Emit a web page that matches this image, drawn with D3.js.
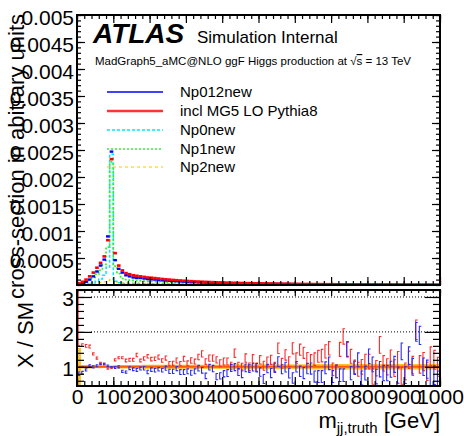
<!DOCTYPE html>
<html>
<head>
<meta charset="utf-8">
<script src="https://cdn.jsdelivr.net/npm/d3@7"></script>
<style>
  body { margin: 0; background: #fff; }
  svg { display: block; font-family: "Liberation Sans", Arial, sans-serif; }
</style>
</head>
<body>
<div id="chart"></div>
<script>
// 10 GeV bins, 0-1000 GeV
const binWidth = 10;
const massLow = d3.range(0, 1000, binWidth);

// top pad: normalised cross-section per bin
const np012New = [
  .00001, .00003, .00006, .00010, .00016, .00025, .00036, .00047, .00090, .00247,
  .00046, .00030, .00023, .00018, .00016, .00014, .00013, .00013, .00012, .00011,
  .000105, .0001, .000094, .000088, .000083, .000079, .000074, .00007, .000066, .000062,
  .000058, .000055, .000052, .00005, .000048, .000045, .000043, .000041, .000039, .000037,
  .000036, .000034, .000033, .000032, .00003, .000029, .000028, .000027, .000026, .000025,
  .000024, .000023, .000022, .000022, .000021, .00002, .000019, .000019, .000018, .000017,
  .000016, .000016, .000015, .000015, .000014, .000013, .000013, .000012, .000012, .000011,
  .000011, .000011, .00001, .00001, .000009, .000009, .000009, .000008, .000008, .000008,
  .000008, .000007, .000007, .000007, .000006, .000006, .000006, .000006, .000005, .000005,
  .000005, .000005, .000005, .000005, .000004, .000004, .000004, .000004, .000004, .000004
];
const inclMG5 = [
  .00003, .00006, .00010, .00016, .00023, .00032, .00041, .00053, .00083, .00233,
  .00059, .00036, .00027, .00022, .00020, .00018, .00017, .00016, .00015, .00014,
  .000135, .000128, .00012, .000112, .000105, .0001, .000094, .000089, .000084, .000079,
  .000075, .000071, .000067, .000064, .000061, .000058, .000055, .000053, .00005, .000048,
  .000046, .000044, .000042, .000041, .000039, .000037, .000036, .000035, .000033, .000032,
  .000031, .00003, .000029, .000028, .000027, .000026, .000025, .000024, .000023, .000022,
  .000021, .00002, .000019, .000019, .000018, .000017, .000017, .000016, .000015, .000015,
  .000014, .000014, .000013, .000013, .000012, .000012, .000011, .000011, .00001, .00001,
  .00001, .000009, .000009, .000009, .000008, .000008, .000008, .000007, .000007, .000007,
  .000007, .000006, .000006, .000006, .000006, .000005, .000005, .000005, .000005, .000005
];
const np0New = [
  0, 0, .00001, .00002, .00004, .00007, .00011, .00018, .00033, .00242,
  .00007, .00004, .00003, .00003, .00003, .000028, .000026, .000025, .000024, .000023,
  .000022, .000021, .00002, .000019, .000018, .000017, .000016, .000016, .000015, .000014,
  .000014, .000013, .000013, .000012, .000012, .000011, .000011, .00001, .00001, .00001,
  .000009, .000009, .000009, .000009, .000008, .000008, .000008, .000008, .000007, .000007,
  .000007, .000007, .000006, .000006, .000006, .000006, .000006, .000005, .000005, .000005,
  .000005, .000005, .000005, .000004, .000004, .000004, .000004, .000004, .000004, .000004,
  .000003, .000003, .000003, .000003, .000003, .000003, .000003, .000003, .000003, .000003,
  .000002, .000002, .000002, .000002, .000002, .000002, .000002, .000002, .000002, .000002,
  .000002, .000002, .000002, .000002, .000001, .000001, .000001, .000001, .000001, .000001
];
const np1New = [
  .00001, .00003, .00006, .0001, .00014, .0002, .00027, .00038, .0007, .00228,
  .00035, .00021, .00012, .0001, .00009, .000085, .00008, .000075, .00007, .000068,
  .000065, .000062, .00006, .000057, .000055, .000052, .00005, .000048, .000046, .000044,
  .000042, .00004, .000038, .000036, .000035, .000033, .000032, .00003, .000029, .000028,
  .000027, .000026, .000025, .000024, .000023, .000022, .000021, .00002, .00002, .000019,
  .000018, .000018, .000017, .000016, .000016, .000015, .000015, .000014, .000014, .000013,
  .000013, .000012, .000012, .000011, .000011, .000011, .00001, .00001, .00001, .000009,
  .000009, .000009, .000008, .000008, .000008, .000008, .000007, .000007, .000007, .000007,
  .000006, .000006, .000006, .000006, .000006, .000005, .000005, .000005, .000005, .000005,
  .000005, .000004, .000004, .000004, .000004, .000004, .000004, .000004, .000003, .000003
];
const np2New = [
  0, .00001, .00001, .00002, .00003, .00004, .00005, .00006, .00008, .00012,
  .00006, .00005, .000045, .00004, .000038, .000036, .000034, .000032, .00003, .000029,
  .000028, .000027, .000026, .000025, .000024, .000023, .000022, .000021, .00002, .00002,
  .000019, .000018, .000018, .000017, .000016, .000016, .000015, .000015, .000014, .000014,
  .000013, .000013, .000012, .000012, .000012, .000011, .000011, .00001, .00001, .00001,
  .00001, .000009, .000009, .000009, .000009, .000008, .000008, .000008, .000008, .000007,
  .000007, .000007, .000007, .000007, .000006, .000006, .000006, .000006, .000006, .000006,
  .000005, .000005, .000005, .000005, .000005, .000005, .000005, .000005, .000004, .000004,
  .000004, .000004, .000004, .000004, .000004, .000004, .000004, .000003, .000003, .000003,
  .000003, .000003, .000003, .000003, .000003, .000003, .000003, .000003, .000003, .000003
];

// bottom pad: ratio to SM reference
const ratioIncl = [
  2.5, 1.62, 1.6, 1.58, 1.37, 1.25, 1.1, 1.08, 0.95, 0.96,
  1.2, 1.26, 1.26, 1.18, 1.2, 1.2, 1.34, 1.18, 1.24, 1.3,
  1.22, 1.23, 1.28, 1.18, 1.25, 1.09, 1.1, 1.18, 1.09, 1.23,
  1.1, 1.18, 1.15, 1.28, 1.37, 1.15, 1.25, 1.25, 1.2, 1.1,
  1.15, 1.15, 1.03, 1.39, 1.03, 0.99, 1.25, 1.0, 1.23, 0.99,
  1.2, 1.03, 1.15, 1.2, 1.0, 1.53, 1.1, 1.34, 1.15, 1.53,
  1.25, 1.49, 1.4, 1.25, 1.18, 1.22, 1.3, 1.32, 1.44, 1.53,
  0.93, 0.87, 1.5, 1.87, 1.5, 1.3, 1.0, 0.93, 1.0, 1.15,
  1.15, 0.72, 0.96, 1.63, 1.1, 1.0, 1.25, 0.96, 1.2, 0.74,
  0.87, 1.2, 1.05, 2.06, 1.07, 1.15, 0.87, 1.3, 1.2, 1.0
];
const ratioNp012 = [
  0.8, 0.83, 0.91, 1.03, 1.0, 1.03, 1.08, 1.08, 1.03, 1.0,
  0.98, 1.0, 0.87, 0.85, 0.96, 0.93, 0.91, 0.95, 0.96, 0.85,
  0.92, 0.9, 0.93, 0.9, 0.96, 0.87, 0.87, 0.95, 0.85, 0.85,
  0.87, 0.83, 0.87, 0.96, 0.9, 0.74, 0.99, 0.95, 0.72, 0.74,
  0.8, 0.82, 0.97, 0.99, 0.85, 0.8, 0.97, 0.95, 0.99, 0.97,
  0.85, 0.65, 0.95, 0.82, 0.97, 1.15, 0.93, 0.99, 0.82, 0.68,
  1.0, 0.87, 0.82, 0.95, 0.95, 0.72, 0.72, 0.72, 0.97, 1.1,
  0.72, 0.87, 0.76, 0.76, 1.5, 0.82, 0.97, 1.2, 0.68, 0.82,
  1.3, 1.07, 0.72, 0.93, 0.82, 0.82, 0.93, 1.07, 0.76, 1.44,
  0.76, 1.32, 1.0, 2.0, 1.9, 1.0, 0.93, 0.72, 0.76, 0.58
];
const errIncl = [
  0.9, .04, .04, .04, .03, .03, .03, .02, .02, .01,
  .03, .03, .03, .04, .04, .04, .05, .04, .05, .05,
  .05, .05, .06, .05, .06, .06, .06, .07, .06, .07,
  .07, .08, .07, .08, .09, .08, .09, .09, .09, .1,
  .1, .1, .1, .12, .1, .11, .12, .11, .12, .12,
  .12, .13, .13, .13, .13, .15, .14, .15, .14, .16,
  .15, .16, .16, .16, .17, .18, .17, .18, .19, .19,
  .18, .18, .2, .22, .2, .2, .19, .2, .21, .21,
  .21, .22, .22, .24, .22, .23, .23, .24, .24, .24,
  .24, .25, .25, .28, .25, .26, .26, .27, .27, .27
];
const errNp012 = [
  .05, .04, .03, .03, .03, .03, .02, .02, .02, .01,
  .03, .03, .03, .03, .04, .04, .04, .04, .05, .05,
  .05, .05, .05, .05, .06, .06, .06, .06, .07, .07,
  .07, .07, .07, .08, .08, .08, .08, .09, .09, .09,
  .09, .1, .1, .1, .1, .11, .11, .11, .11, .12,
  .12, .13, .12, .13, .13, .14, .13, .14, .14, .15,
  .15, .15, .16, .15, .16, .16, .17, .17, .17, .18,
  .17, .18, .18, .18, .22, .19, .19, .2, .2, .2,
  .21, .21, .21, .22, .22, .22, .23, .23, .23, .24,
  .24, .25, .24, .27, .26, .25, .26, .26, .27, .3
];
const refErr = [
  0.54, .05, .05, .05, .04, .04, .04, .03, .03, .02,
  .04, .05, .05, .05, .05, .05, .05, .05, .06, .06,
  .06, .06, .06, .06, .06, .06, .06, .06, .06, .06,
  .06, .06, .06, .06, .06, .06, .06, .06, .06, .06,
  .06, .07, .07, .07, .07, .07, .07, .07, .07, .07,
  .07, .07, .07, .07, .07, .07, .07, .07, .07, .07,
  .07, .07, .07, .07, .08, .08, .08, .08, .08, .08,
  .08, .08, .08, .08, .08, .08, .08, .08, .08, .08,
  .08, .08, .08, .08, .08, .08, .08, .08, .08, .08,
  .08, .08, .08, .08, .08, .08, .08, .08, .08, .08
];

const xTickLabels = [0, 100, 200, 300, 400, 500, 600, 700, 800, 900, 1000];
const yTickLabels = [0.0005, 0.001, 0.0015, 0.002, 0.0025, 0.003, 0.0035, 0.004, 0.0045, 0.005];
const ratioTickLabels = [1, 2, 3];

const legendItems = [
  { label: 'Np012new', color: '#0000ff', width: 1.5, dash: null },
  { label: 'incl MG5 LO Pythia8', color: '#ff3333', width: 2.5, dash: null },
  { label: 'Np0new', color: '#00e8ff', width: 1.3, dash: '3,2' },
  { label: 'Np1new', color: '#33ee33', width: 1.5, dash: '2,2' },
  { label: 'Np2new', color: '#ffc400', width: 1, dash: '3,3' }
];

const width = 464;
const height = 436;
const left = 77, right = 440;
const top1 = 15, bottom1 = 285;
const top2 = 290, bottom2 = 386;

const svg = d3.select('#chart')
              .append('svg')
              .attr('width', width)
              .attr('height', height);

const xScale = d3.scaleLinear().domain([0, 1000]).range([left, right]);
const yScale = d3.scaleLinear().domain([0, 0.005]).range([bottom1, top1]);
const rScale = d3.scaleLinear().domain([0.45, 3.2]).range([bottom2, top2]);

const defs = svg.append('defs');
defs.append('clipPath').attr('id', 'clip1')
    .append('rect').attr('x', left).attr('y', top1).attr('width', right - left).attr('height', bottom1 - top1);
defs.append('clipPath').attr('id', 'clip2')
    .append('rect').attr('x', left).attr('y', top2).attr('width', right - left).attr('height', bottom2 - top2);

// ---------- top pad ----------
const g1 = svg.append('g').attr('clip-path', 'url(#clip1)');

const stepLine = d3.line()
                   .x(d => xScale(d[0]))
                   .y(d => yScale(d[1]))
                   .curve(d3.curveStepAfter);

function stepPoints(values) {
  const pts = massLow.map((m, i) => [m, values[i]]);
  pts.push([1000, values[values.length - 1]]);
  return pts;
}

[[np2New, legendItems[4]], [np0New, legendItems[2]], [np1New, legendItems[3]]].forEach(([vals, st]) => {
  g1.append('path')
    .attr('d', stepLine(stepPoints(vals)))
    .attr('fill', 'none')
    .attr('stroke', st.color)
    .attr('stroke-width', st.width + 0.2)
    .attr('stroke-dasharray', st.dash);
});

function drawDashes(values, color, h) {
  g1.selectAll(null)
    .data(values)
    .enter()
    .append('rect')
    .attr('x', (d, i) => xScale(massLow[i]))
    .attr('width', (d, i) => xScale(massLow[i] + binWidth) - xScale(massLow[i]))
    .attr('y', d => yScale(d) - h / 2)
    .attr('height', h)
    .attr('fill', color);
}
drawDashes(np012New, '#0000ff', 2.4);
drawDashes(inclMG5, '#ff0000', 2.6);

// ---------- bottom pad ----------
const g2 = svg.append('g').attr('clip-path', 'url(#clip2)');

g2.selectAll(null)
  .data(refErr)
  .enter()
  .append('rect')
  .attr('x', (d, i) => xScale(massLow[i]))
  .attr('width', (d, i) => xScale(massLow[i] + binWidth) - xScale(massLow[i]) + 0.3)
  .attr('y', d => rScale(1 + d))
  .attr('height', d => rScale(1 - d) - rScale(1 + d))
  .attr('fill', '#fbc02d');

[2, 3].forEach(v => {
  svg.append('line')
     .attr('x1', left + 14).attr('x2', right)
     .attr('y1', rScale(v)).attr('y2', rScale(v))
     .attr('stroke', '#000')
     .attr('stroke-width', 1)
     .attr('stroke-dasharray', '1,2');
});

g2.append('line')
  .attr('x1', left).attr('x2', right)
  .attr('y1', rScale(1)).attr('y2', rScale(1))
  .attr('stroke', '#ff5a00')
  .attr('stroke-width', 2);

function drawRatio(values, errs, color) {
  g2.selectAll(null)
    .data(values)
    .enter()
    .append('path')
    .attr('d', (d, i) => {
      const cx = xScale(massLow[i] + binWidth / 2);
      const yt = rScale(d + errs[i]);
      const yb = rScale(d - errs[i]);
      return `M${cx + 1.3},${yt}H${cx - 0.7}V${yb}H${cx + 1.3}`;
    })
    .attr('fill', 'none')
    .attr('stroke', color)
    .attr('stroke-width', 1.1);
}
drawRatio(ratioIncl, errIncl, '#ff2a2a');
drawRatio(ratioNp012, errNp012, '#2a2aff');

// ---------- frames and ticks ----------
function frame(y0, y1) {
  svg.append('rect')
     .attr('x', left).attr('y', y0)
     .attr('width', right - left).attr('height', y1 - y0)
     .attr('fill', 'none')
     .attr('stroke', '#000')
     .attr('stroke-width', 2);
}
frame(top1, bottom1);
frame(top2, bottom2);

function ticks(transform, major, minor) {
  const gMin = svg.append('g').attr('transform', transform).call(minor);
  const gMaj = svg.append('g').attr('transform', transform).call(major);
  [gMin, gMaj].forEach(g => {
    g.select('.domain').remove();
    g.selectAll('line').attr('stroke', '#000').attr('stroke-width', 1.2);
  });
  return gMaj;
}

const xMinor = d3.range(0, 1001, 20);
const yMinor = d3.range(0, 0.00501, 0.0001);
const rMinor = d3.range(0.6, 3.21, 0.2);

// top pad x ticks
ticks(`translate(0,${bottom1})`,
      d3.axisBottom(xScale).tickValues(xTickLabels).tickSize(-8).tickFormat(''),
      d3.axisBottom(xScale).tickValues(xMinor).tickSize(-4).tickFormat(''));
ticks(`translate(0,${top1})`,
      d3.axisTop(xScale).tickValues(xTickLabels).tickSize(-8).tickFormat(''),
      d3.axisTop(xScale).tickValues(xMinor).tickSize(-4).tickFormat(''));
// top pad y ticks
const yAxisG = ticks(`translate(${left},0)`,
      d3.axisLeft(yScale).tickValues(yTickLabels).tickSize(-8).tickPadding(3).tickFormat(d => String(d)),
      d3.axisLeft(yScale).tickValues(yMinor).tickSize(-4).tickFormat(''));
ticks(`translate(${right},0)`,
      d3.axisRight(yScale).tickValues(yTickLabels).tickSize(-8).tickFormat(''),
      d3.axisRight(yScale).tickValues(yMinor).tickSize(-4).tickFormat(''));

// bottom pad ticks
const xAxisG = ticks(`translate(0,${bottom2})`,
      d3.axisBottom(xScale).tickValues(xTickLabels).tickSize(-9).tickPadding(3).tickFormat(d3.format('d')),
      d3.axisBottom(xScale).tickValues(xMinor).tickSize(-5).tickFormat(''));
ticks(`translate(0,${top2})`,
      d3.axisTop(xScale).tickValues(xTickLabels).tickSize(-6).tickFormat(''),
      d3.axisTop(xScale).tickValues(xMinor).tickSize(-3).tickFormat(''));
const rAxisG = ticks(`translate(${left},0)`,
      d3.axisLeft(rScale).tickValues(ratioTickLabels).tickSize(-15).tickPadding(3).tickFormat(d3.format('d')),
      d3.axisLeft(rScale).tickValues(rMinor).tickSize(-7).tickFormat(''));
ticks(`translate(${right},0)`,
      d3.axisRight(rScale).tickValues(ratioTickLabels).tickSize(-15).tickFormat(''),
      d3.axisRight(rScale).tickValues(rMinor).tickSize(-7).tickFormat(''));

[yAxisG, rAxisG, xAxisG].forEach(g => {
  g.selectAll('text')
   .attr('fill', '#000')
   .style('font-family', '"Liberation Sans", Arial, sans-serif')
   .style('font-size', '21px');
});
yAxisG.selectAll('text').attr('dy', '0.45em');
rAxisG.selectAll('text').attr('dy', '0.4em');

// ---------- titles ----------
svg.append('text')
   .attr('transform', 'translate(24,14) rotate(-90)')
   .attr('text-anchor', 'end')
   .style('font-size', '22px')
   .text('cross-section in abitrary units');

svg.append('text')
   .attr('transform', 'translate(33,302) rotate(-90)')
   .attr('text-anchor', 'end')
   .style('font-size', '22px')
   .text('X / SM');

const xTitle = svg.append('text')
                  .attr('x', right)
                  .attr('y', 428)
                  .attr('text-anchor', 'end')
                  .style('font-size', '22px');
xTitle.append('tspan').text('m');
xTitle.append('tspan').attr('dy', 5).style('font-size', '15px').text('jj,truth');
xTitle.append('tspan').attr('dy', -5).text(' [GeV]');

svg.append('text')
   .attr('x', 93).attr('y', 43)
   .style('font-size', '28px')
   .style('font-weight', 'bold')
   .style('font-style', 'italic')
   .text('ATLAS');

svg.append('text')
   .attr('x', 197).attr('y', 43)
   .style('font-size', '17px')
   .text('Simulation Internal');

const sub = svg.append('text')
               .attr('x', 95).attr('y', 65)
               .style('font-size', '11.5px');
sub.append('tspan').text('MadGraph5_aMC@NLO ggF Higgs production at \u221A');
sub.append('tspan').style('text-decoration', 'overline').text('s');
sub.append('tspan').text(' = 13 TeV');

// ---------- legend ----------
const legendRowY = [92, 111, 130, 149, 167];
const legend = svg.append('g');
legendItems.forEach((item, i) => {
  legend.append('line')
        .attr('x1', 107).attr('x2', 163)
        .attr('y1', legendRowY[i]).attr('y2', legendRowY[i])
        .attr('stroke', item.color)
        .attr('stroke-width', item.width)
        .attr('stroke-dasharray', item.dash);
  legend.append('text')
        .attr('x', 180)
        .attr('y', legendRowY[i] + 5)
        .style('font-size', '15px')
        .text(item.label);
});
</script>
</body>
</html>
